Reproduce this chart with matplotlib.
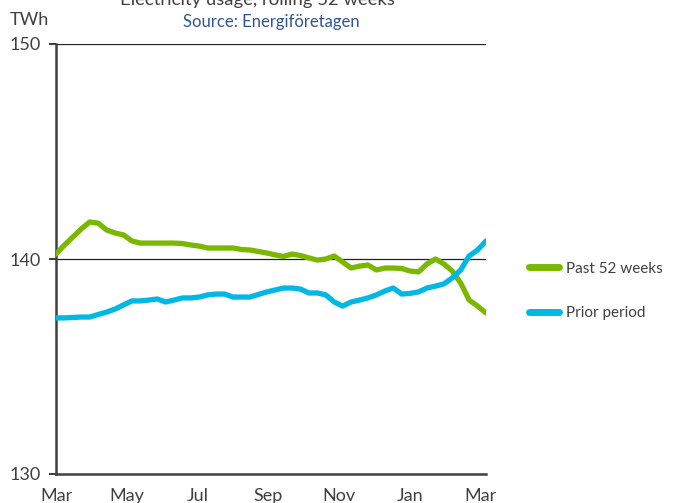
import numpy as np
import matplotlib
matplotlib.use("Agg")
import matplotlib.pyplot as plt

# weekly values, TWh
past_52 = [140.23, 140.65, 141.02, 141.40, 141.72, 141.67, 141.35, 141.21, 141.12, 140.84,
           140.74, 140.74, 140.74, 140.74, 140.74, 140.72, 140.65, 140.60, 140.51, 140.51,
           140.51, 140.51, 140.44, 140.42, 140.35, 140.28, 140.19, 140.12, 140.23, 140.16,
           140.05, 139.95, 140.00, 140.14, 139.86, 139.58, 139.67, 139.72, 139.49, 139.58,
           139.58, 139.56, 139.44, 139.40, 139.77, 140.00, 139.77, 139.44, 138.88, 138.09,
           137.81, 137.49]
prior = [137.26, 137.26, 137.28, 137.30, 137.30, 137.42, 137.53, 137.67, 137.86, 138.05,
         138.05, 138.09, 138.14, 138.00, 138.09, 138.19, 138.19, 138.23, 138.33, 138.37,
         138.37, 138.23, 138.23, 138.23, 138.35, 138.47, 138.56, 138.65, 138.65, 138.60,
         138.42, 138.42, 138.33, 138.00, 137.81, 138.00, 138.09, 138.19, 138.33, 138.51,
         138.65, 138.37, 138.40, 138.47, 138.65, 138.74, 138.84, 139.12, 139.49, 140.14,
         140.42, 140.84]
month_labels = ["Mar", "May", "Jul", "Sep", "Nov", "Jan", "Mar"]
y_ticks = [130, 140, 150]

plt.rcParams['font.family'] = ['Lato', 'DejaVu Sans']

fig = plt.figure(figsize=(6.76, 5.03), dpi=100)
ax = fig.add_axes([56 / 676, 1 - 474 / 503, 430 / 676, 430 / 503])

weeks = np.arange(len(past_52))
green = "#7AB800"
blue = "#00B8E6"
ax.plot(weeks, past_52, color=green, lw=3.8, label="Past 52 weeks", solid_capstyle="round",
        solid_joinstyle="round", zorder=3)
ax.plot(weeks, prior, color=blue, lw=3.8, label="Prior period", solid_capstyle="round",
        solid_joinstyle="round", zorder=3)

ax.set_xlim(0, len(past_52) - 1)
ax.set_ylim(130, 150)
ax.set_yticks(y_ticks)
ax.set_yticklabels([str(v) for v in y_ticks], fontsize=13, color="#404040")
ax.set_xticks(np.linspace(0, 50.4, len(month_labels)))
ax.set_xticklabels(month_labels, fontsize=13, color="#404040")
ax.tick_params(axis="x", length=0, pad=10)
ax.tick_params(axis="y", length=5, width=1.5, color="#404040", pad=6)

for v in y_ticks[1:]:
    ax.axhline(v, color="#222222", lw=0.9, zorder=1)

for s in ["top", "right"]:
    ax.spines[s].set_visible(False)
for s in ["left", "bottom"]:
    ax.spines[s].set_color("#404040")
    ax.spines[s].set_linewidth(1.8)

fig.text(10 / 676, 1 - 20 / 503, "TWh", fontsize=13, color="#404040", va="center")
fig.text(271 / 676, 1 - 22 / 503, "Source: Energiföretagen", fontsize=12, color="#2F5597",
         ha="center", va="center")
fig.text(257 / 676, 1.0, "Electricity usage, rolling 52 weeks", fontsize=13.3, color="#404040",
         ha="center", va="center")

leg = ax.legend(loc="center left", bbox_to_anchor=(515 / 676, 1 - 291 / 503),
                bbox_transform=fig.transFigure, frameon=False, fontsize=11,
                handlelength=2.0, handletextpad=0.45, labelspacing=2.0)
for t in leg.get_texts():
    t.set_color("#404040")
for h in leg.get_lines():
    h.set_linewidth(5)

fig.savefig("out.png", dpi=100)
